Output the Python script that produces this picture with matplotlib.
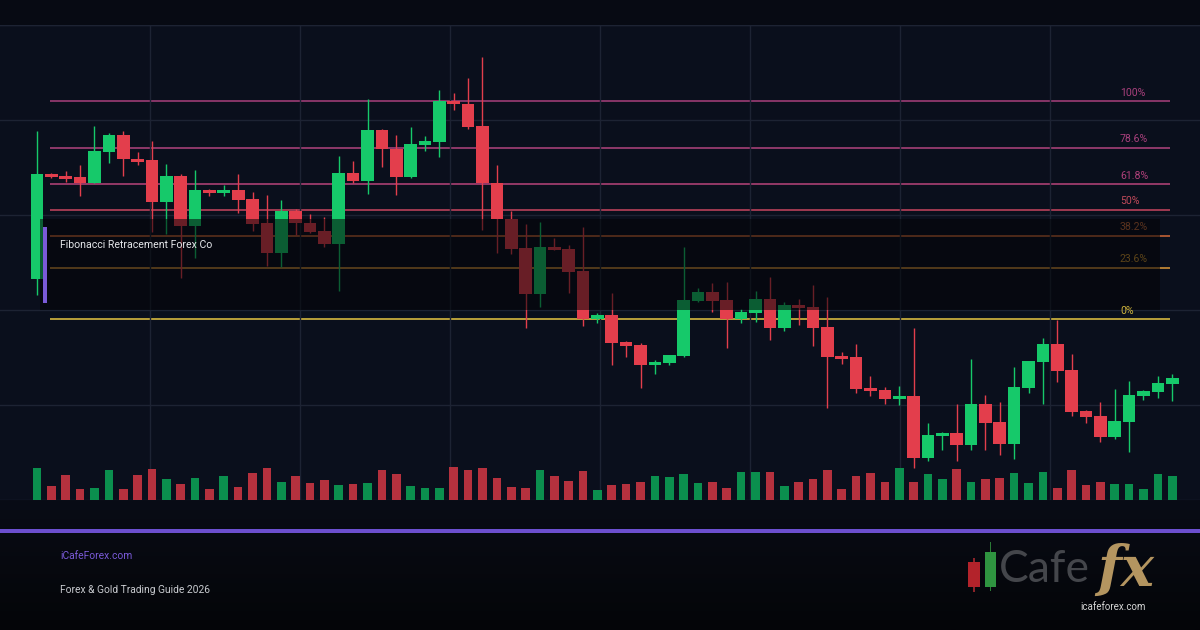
import matplotlib
matplotlib.use("Agg")
import matplotlib.pyplot as plt
from matplotlib.patches import Rectangle
import numpy as np

# OHLC (price units), one entry per candle
opens = [2221, 2326, 2324, 2323, 2317, 2348, 2365, 2341, 2340, 2298,
         2324, 2274, 2310, 2307, 2310, 2301, 2277, 2247, 2289, 2277,
         2269, 2256, 2327, 2319, 2370, 2351, 2323, 2355, 2358, 2399,
         2396, 2374, 2317, 2281, 2252, 2206, 2253, 2251, 2229, 2181,
         2185, 2158, 2155, 2135, 2137, 2144, 2199, 2208, 2200, 2181,
         2187, 2201, 2172, 2195, 2193, 2173, 2144, 2143, 2112, 2110,
         2101, 2104, 2042, 2064, 2067, 2055, 2096, 2078, 2056, 2112,
         2138, 2156, 2130, 2089, 2084, 2063, 2078, 2104, 2108, 2116]
highs = [2369, 2327, 2329, 2335, 2374, 2367, 2369, 2348, 2359, 2336,
         2326, 2330, 2311, 2315, 2326, 2308, 2305, 2300, 2291, 2286,
         2283, 2344, 2339, 2401, 2371, 2365, 2373, 2364, 2410, 2407,
         2422, 2443, 2335, 2289, 2276, 2278, 2262, 2255, 2273, 2187,
         2207, 2159, 2157, 2140, 2145, 2253, 2212, 2217, 2218, 2191,
         2209, 2223, 2198, 2201, 2215, 2203, 2148, 2156, 2124, 2113,
         2114, 2172, 2077, 2068, 2096, 2141, 2105, 2098, 2133, 2139,
         2162, 2180, 2146, 2090, 2098, 2111, 2119, 2110, 2124, 2126]
lows = [2205, 2322, 2318, 2304, 2317, 2337, 2324, 2335, 2268, 2266,
        2222, 2242, 2304, 2304, 2287, 2269, 2234, 2233, 2265, 2267,
        2253, 2209, 2317, 2306, 2333, 2305, 2322, 2349, 2343, 2390,
        2371, 2270, 2247, 2246, 2172, 2193, 2250, 2207, 2174, 2177,
        2135, 2143, 2112, 2126, 2135, 2143, 2198, 2188, 2152, 2177,
        2178, 2160, 2169, 2175, 2154, 2092, 2136, 2107, 2104, 2096,
        2095, 2032, 2039, 2050, 2039, 2050, 2050, 2045, 2041, 2107,
        2096, 2118, 2084, 2077, 2058, 2061, 2048, 2100, 2102, 2099]
closes = [2326, 2323, 2321, 2317, 2349, 2365, 2341, 2338, 2298, 2324,
          2274, 2310, 2307, 2310, 2300, 2276, 2247, 2289, 2277, 2268,
          2256, 2327, 2319, 2370, 2351, 2323, 2356, 2359, 2399, 2396,
          2373, 2317, 2281, 2251, 2206, 2253, 2250, 2228, 2181, 2185,
          2157, 2154, 2135, 2138, 2145, 2200, 2208, 2199, 2181, 2188,
          2201, 2172, 2195, 2192, 2172, 2143, 2141, 2111, 2109, 2101,
          2104, 2042, 2065, 2067, 2055, 2096, 2077, 2056, 2113, 2139,
          2156, 2129, 2088, 2083, 2063, 2079, 2105, 2109, 2117, 2122]
volumes = [317, 137, 247, 107, 117, 297, 107, 247, 307, 207,
           157, 217, 107, 237, 127, 267, 317, 177, 237, 167,
           197, 147, 157, 167, 297, 257, 137, 117, 117, 327,
           297, 317, 217, 127, 117, 297, 237, 187, 287, 100,
           147, 157, 177, 237, 227, 257, 167, 177, 117, 277,
           277, 277, 137, 177, 207, 297, 107, 237, 267, 177,
           317, 177, 257, 207, 307, 177, 207, 217, 267, 167,
           277, 117, 297, 147, 177, 157, 157, 107, 257, 237]

fib_high = 2399
fib_low = 2181
fib_ratios = [1.0, 0.786, 0.618, 0.5, 0.382, 0.236, 0.0]
fib_labels = ["100%", "78.6%", "61.8%", "50%", "38.2%", "23.6%", "0%"]
fib_line_colors = ["#a8407c", "#b2447f", "#b8447a", "#c8455f", "#d46a38", "#e09a3a", "#e8c642"]
fib_text_colors = ["#a8407c", "#a8407c", "#b0407a", "#c04a5a", "#c26a3a", "#c8902e", "#cdb23c"]

BG = "#0a0f1c"
UP = "#16c96a"
DOWN = "#e33e4c"
VOL_UP = "#0b8f4e"
VOL_DOWN = "#b5313e"

W, H = 1200, 630
STEP = 14.37   # pixels per candle
X0 = 37        # pixel centre of first candle

fig = plt.figure(figsize=(12, 6.3), dpi=100)
fig.patch.set_facecolor("#070a13")

# darker footer with a soft gradient
bg = fig.add_axes([0, 0, 1, 130 / H])
grad = np.linspace(0, 1, 100).reshape(-1, 1)
bg.imshow(grad, aspect="auto", extent=[0, 1, 0, 1], origin="lower",
          cmap=matplotlib.colors.LinearSegmentedColormap.from_list("g", ["#040508", "#090c16"]))
bg.axis("off")

ax = fig.add_axes([0, 130 / H, 1, 475 / H])
ax.set_facecolor(BG)
ax.set_xlim(-X0 / STEP, (W - X0) / STEP)
ax.set_ylim(2000, 2475)

# grid
ax.set_xticks([(px - X0) / STEP for px in range(150, 1200, 150)])
ax.set_yticks([2000, 2095, 2190, 2285, 2380, 2475])
ax.grid(True, color="#1d2333", linewidth=1, zorder=0)
ax.tick_params(length=0, labelbottom=False, labelleft=False)
for s in ax.spines.values():
    s.set_visible(False)
ax.axhline(2475, color="#1d2333", linewidth=1, zorder=0)

# fibonacci levels
ytr = ax.get_yaxis_transform()
for r, lab, lc, tc in zip(fib_ratios, fib_labels, fib_line_colors, fib_text_colors):
    level = fib_low + r * (fib_high - fib_low)
    ax.hlines(level, 50 / W, 1170 / W, transform=ytr, color=lc, linewidth=1.1, zorder=1)
    ax.text(1120 / W, level + 3.5, lab, transform=ytr, color=tc, fontsize=7.6,
            family="Roboto", va="bottom", ha="left", zorder=6 if r == 0 else 1)

# candles
o = np.array(opens)
c = np.array(closes)
x = np.arange(len(o))
up = c >= o
cols = np.where(up, UP, DOWN)
ax.vlines(x, lows, highs, colors=cols, linewidth=1.0, zorder=2)
body_h = np.maximum(np.abs(c - o), 1.5)
ax.bar(x, body_h, bottom=np.minimum(o, c), width=0.88, color=cols, linewidth=0, zorder=3)

# volume on its own scale
vax = ax.twinx()
vax.set_ylim(0, 4750)
vax.bar(x, volumes, width=0.6, color=np.where(up, VOL_UP, VOL_DOWN), linewidth=0)
vax.axis("off")

# dim overlay box with title
ax.add_patch(Rectangle((40 / W, 2190), 1120 / W, 91, transform=ytr,
                       facecolor="#030407", alpha=0.55, linewidth=0, zorder=4))
ax.add_patch(Rectangle((43 / W, 2197), 4 / W, 76, transform=ytr,
                       facecolor="#7a5ad8", linewidth=0, zorder=5))
ax.text(60 / W, 2255, "Fibonacci Retracement Forex Co", transform=ytr,
        color="#e4e6ea", fontsize=7.6, family="Roboto", va="center", zorder=5)

# purple divider
fig.add_artist(Rectangle((0, (H - 533) / H), 1, 4 / H, transform=fig.transFigure,
                         facecolor="#6c4fcf", linewidth=0))

# footer texts
fig.text(60 / W, (H - 556) / H, "iCafeForex.com", color="#7a5ad8", fontsize=7.4,
         family="Roboto", va="center")
fig.text(60 / W, (H - 590) / H, "Forex & Gold Trading Guide 2026", color="#c9cbd0",
         fontsize=7.4, family="Roboto", va="center")

# logo
def fig_rect(x0, y0, x1, y1, color):
    fig.add_artist(Rectangle((x0 / W, (H - y1) / H), (x1 - x0) / W, (y1 - y0) / H,
                             transform=fig.transFigure, facecolor=color, linewidth=0))

fig_rect(973, 558, 974.5, 592, "#8a2228")
fig_rect(968, 562, 980, 587, "#b3232b")
fig_rect(989.5, 542, 991, 591, "#2a7a36")
fig_rect(985, 552, 996, 587, "#2f9440")
fig.text(999 / W, (H - 569) / H, "Cafe", color="#44464b", fontsize=32,
         family="Lato", fontweight="normal", va="center", ha="left")
fig.text(1097 / W, (H - 570) / H, "fx", color="#b49560", fontsize=40,
         family="DejaVu Serif", style="italic", fontweight="bold", va="center", ha="left")
fig.text(1113 / W, (H - 607) / H, "icafeforex.com", color="#d6d6d6", fontsize=7,
         family="Roboto", va="center", ha="center")

fig.savefig("out.png", dpi=100, facecolor=fig.get_facecolor())
